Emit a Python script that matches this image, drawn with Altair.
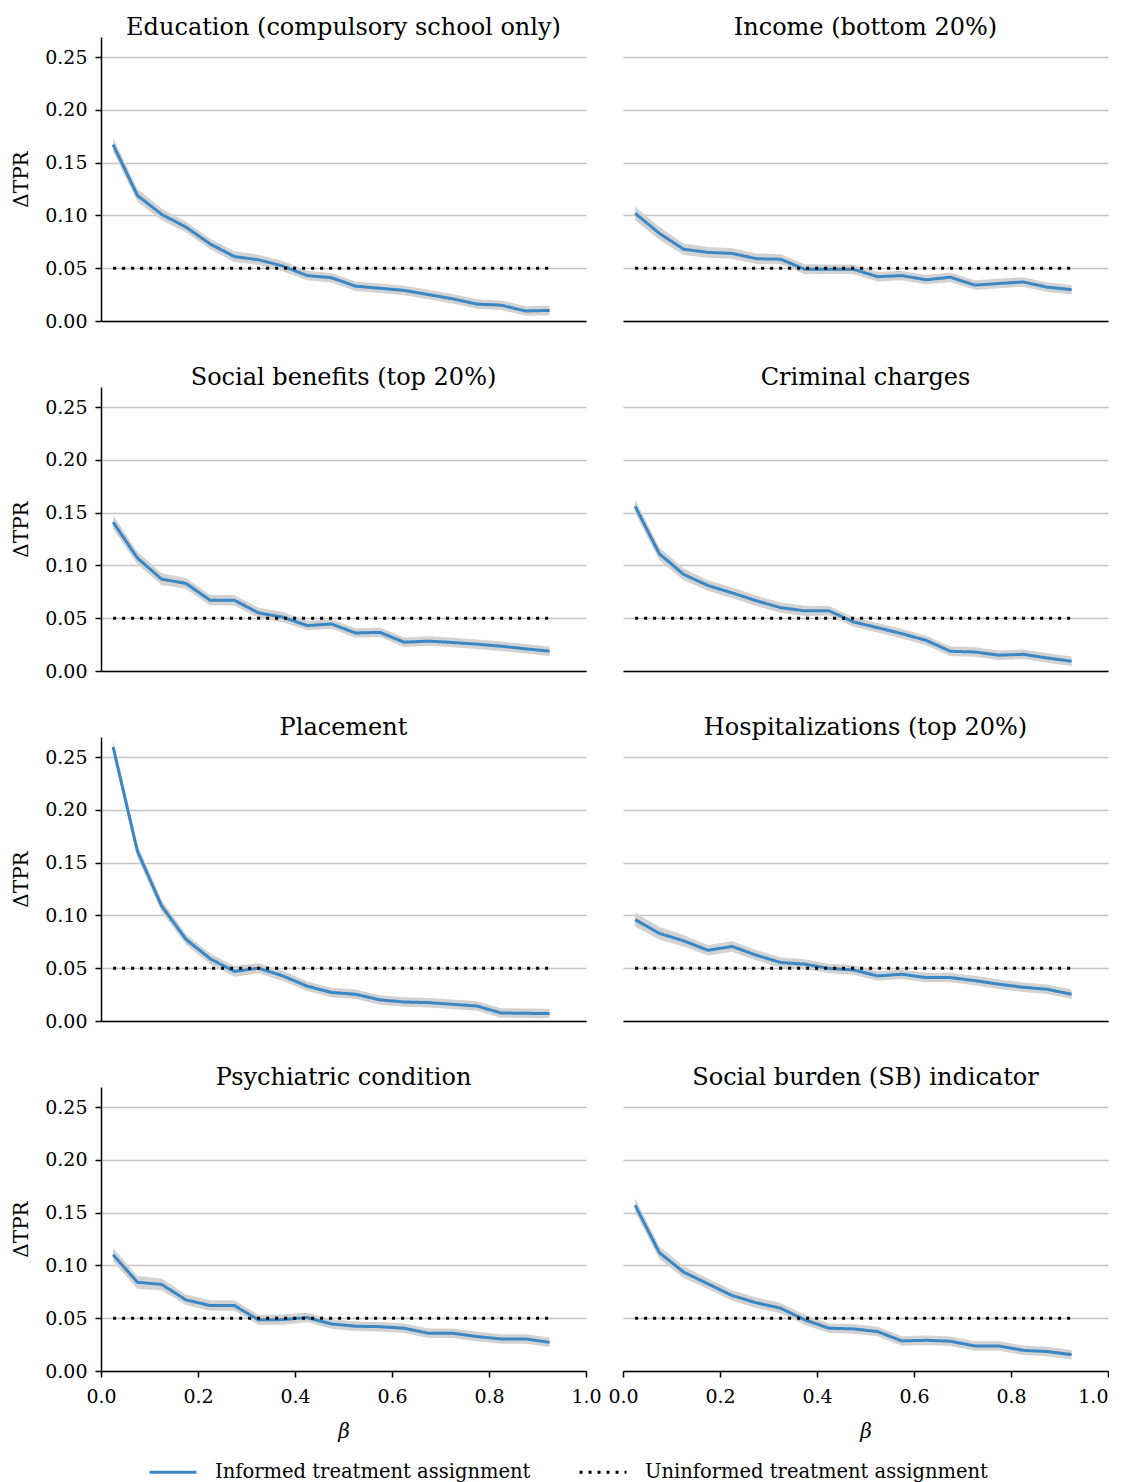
import altair as alt
import pandas as pd

FONT = "DejaVu Serif"
BLUE = "#3a87c5"
BAND = "#d2d2d2"
SERIES = ["Informed treatment assignment", "Uninformed treatment assignment"]

beta = [0.025, 0.075, 0.125, 0.175, 0.225, 0.275, 0.325, 0.375, 0.425, 0.475,
        0.525, 0.575, 0.625, 0.675, 0.725, 0.775, 0.825, 0.875, 0.925]

titles = [
    "Education (compulsory school only)",
    "Income (bottom 20%)",
    "Social benefits (top 20%)",
    "Criminal charges",
    "Placement",
    "Hospitalizations (top 20%)",
    "Psychiatric condition",
    "Social burden (SB) indicator",
]

education = [0.167, 0.119, 0.101, 0.089, 0.073, 0.061, 0.058, 0.052, 0.043, 0.041,
             0.033, 0.031, 0.029, 0.025, 0.021, 0.016, 0.015, 0.0095, 0.010]
income = [0.102, 0.083, 0.068, 0.065, 0.064, 0.059, 0.0585, 0.049, 0.049, 0.049,
          0.042, 0.043, 0.039, 0.0415, 0.034, 0.0355, 0.037, 0.032, 0.0297]
benefits = [0.141, 0.107, 0.087, 0.083, 0.067, 0.067, 0.055, 0.051, 0.043, 0.0445,
            0.036, 0.0366, 0.0273, 0.0283, 0.027, 0.0254, 0.0235, 0.021, 0.0188]
criminal = [0.156, 0.111, 0.0915, 0.081, 0.074, 0.0665, 0.060, 0.057, 0.057, 0.0465,
            0.041, 0.0354, 0.029, 0.0187, 0.018, 0.015, 0.0158, 0.0123, 0.0092]
placement = [0.2595, 0.161, 0.109, 0.0775, 0.059, 0.047, 0.050, 0.0427, 0.033, 0.027,
             0.0253, 0.020, 0.018, 0.0174, 0.0158, 0.0142, 0.0076, 0.0073, 0.007]
hospital = [0.096, 0.083, 0.076, 0.067, 0.0706, 0.0623, 0.0554, 0.0538, 0.0497, 0.0484,
            0.0427, 0.0443, 0.0411, 0.0411, 0.0383, 0.0348, 0.032, 0.030, 0.0253]
psychiatric = [0.110, 0.084, 0.082, 0.0674, 0.062, 0.062, 0.0484, 0.0487, 0.0506, 0.0446,
               0.0424, 0.042, 0.0405, 0.0358, 0.0358, 0.0326, 0.0304, 0.0304, 0.0272]
burden = [0.157, 0.112, 0.0937, 0.0826, 0.0715, 0.0646, 0.0595, 0.0484, 0.0405, 0.0399,
          0.0373, 0.0285, 0.0291, 0.0282, 0.0237, 0.0237, 0.0196, 0.0184, 0.0155]

series_values = [education, income, benefits, criminal, placement, hospital, psychiatric, burden]

# half-width of the grey confidence band
band_half = [0.0065, 0.006, 0.0055, 0.005, 0.005, 0.005, 0.0048, 0.0048, 0.0045, 0.0045,
             0.0045, 0.0045, 0.0045, 0.0045, 0.0045, 0.0045, 0.0045, 0.0045, 0.0045]

uninformed_level = 0.05
x_ticks = [0.0, 0.2, 0.4, 0.6, 0.8, 1.0]
y_ticks = [0.0, 0.05, 0.10, 0.15, 0.20, 0.25]

cscale = alt.Scale(domain=SERIES, range=[BLUE, "black"])
dscale = alt.Scale(domain=SERIES, range=[[1, 0], [3, 6]])
legend = alt.Legend(title=None)


def panel(i):
    row, col = divmod(i, 2)
    bottom = row == 3
    left = col == 0
    vals = series_values[i]
    df = pd.DataFrame({
        "beta": beta,
        "tpr": vals,
        "lo": [v - h for v, h in zip(vals, band_half)],
        "hi": [v + h for v, h in zip(vals, band_half)],
        "series": SERIES[0],
    })
    ref = pd.DataFrame({
        "beta": [beta[0], beta[-1]],
        "tpr": [uninformed_level, uninformed_level],
        "series": SERIES[1],
    })
    xaxis_kw = dict(values=x_ticks, format=".1f", labels=bottom, ticks=bottom,
                    title="β" if bottom else None, grid=False, domain=True,
                    titleFontStyle="italic", labelFlush=False, labelOverlap=False)
    if bottom and not left:
        # keep the last label inside the page width
        xaxis_kw["labelAlign"] = {"condition": {"test": "datum.value >= 1", "value": "right"},
                                  "value": "center"}
    xaxis = alt.Axis(**xaxis_kw)
    yaxis = alt.Axis(values=y_ticks, format=".2f", labels=left, ticks=left,
                     domain=left, grid=True, title="ΔTPR" if left else None)
    xs = alt.Scale(domain=[0, 1], nice=False)
    ys = alt.Scale(domain=[0, 0.269], nice=False)

    band = alt.Chart(df).mark_area(color=BAND).encode(
        x=alt.X("beta:Q", scale=xs, axis=xaxis),
        y=alt.Y("lo:Q", scale=ys, axis=yaxis),
        y2="hi:Q",
    )
    line = alt.Chart(df).mark_line(strokeWidth=3).encode(
        x="beta:Q",
        y="tpr:Q",
        color=alt.Color("series:N", scale=cscale, legend=legend),
        strokeDash=alt.StrokeDash("series:N", scale=dscale, legend=legend),
    )
    dots = alt.Chart(ref).mark_line(strokeWidth=3).encode(
        x="beta:Q",
        y="tpr:Q",
        color=alt.Color("series:N", scale=cscale, legend=legend),
        strokeDash=alt.StrokeDash("series:N", scale=dscale, legend=legend),
    )
    return alt.layer(band, line, dots).properties(
        width=485, height=284,
        title=alt.TitleParams(titles[i], font=FONT, fontSize=24, fontWeight="normal",
                              anchor="middle", baseline="alphabetic", offset=-22,
                              color="black"),
    )


chart = alt.concat(*[panel(i) for i in range(8)], columns=2,
                   spacing={"row": 66, "column": 37}, bounds="flush").properties(
    padding={"left": 3, "top": 8, "right": 0, "bottom": 5}
).configure_view(stroke=None).configure_axis(
    labelFont=FONT, labelFontSize=19, labelColor="black",
    titleFont=FONT, titleFontSize=20, titleColor="black", titleFontWeight="normal",
    domainColor="black", domainWidth=1.5, tickColor="black", tickWidth=1.5, tickSize=6,
    gridColor="#c4c4c4", gridWidth=1.3,
).configure_axisX(
    labelPadding=10, titlePadding=15,
).configure_axisY(
    labelPadding=8, titlePadding=13,
).configure_legend(
    orient="none", legendX=47, legendY=1410, direction="horizontal",
    labelFont=FONT, labelFontSize=19.5, labelLimit=0,
    labelColor="black", symbolType="stroke", symbolSize=2200, symbolStrokeWidth=3,
    columnPadding=42, labelOffset=17,
)

chart.save("out.html", embed_options={"renderer": "svg", "actions": False})
